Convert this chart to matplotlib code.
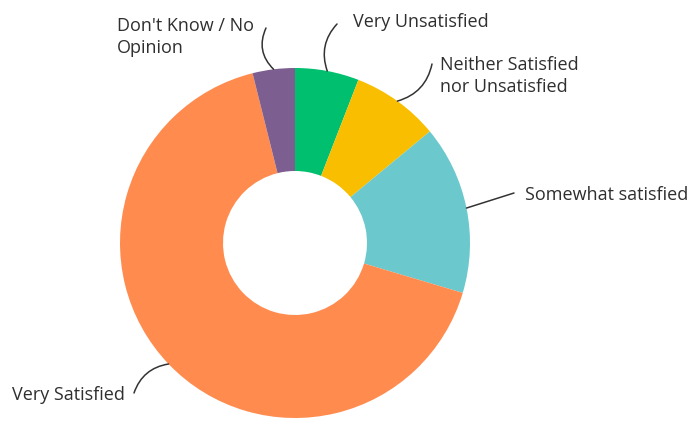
import numpy as np
import matplotlib.pyplot as plt

# data
labels = ["Very Unsatisfied", "Neither Satisfied\nnor Unsatisfied", "Somewhat satisfied",
          "Very Satisfied", "Don't Know / No\nOpinion"]
values = [5.9, 8.1, 15.6, 66.5, 3.9]
colors = ["#00BF6F", "#F9BE00", "#6BC8CD", "#FF8B4F", "#7D5E90"]

plt.rcParams['font.family'] = ['Open Sans', 'DejaVu Sans']

W, H = 695, 424
fig = plt.figure(figsize=(W / 100, H / 100), dpi=100)
ax = fig.add_axes([0, 0, 1, 1])

cx, cy = 295, H - 243
R, r_in = 175, 72
wedges, _ = ax.pie(values, colors=colors, startangle=90, counterclock=False,
                   center=(cx, cy), radius=R, frame=True,
                   wedgeprops=dict(width=R - r_in, linewidth=0))
ax.set_xlim(0, W)
ax.set_ylim(0, H)
ax.set_aspect('equal')
ax.axis('off')

# label placement (pixel coords from top-left), alignment, leader arc, leader end
lab_pos = [(353, 22, 'left', 0.3, (337, 24)),
           (440, 76, 'left', -0.3, (432, 64)),
           (525, 195, 'left', 0.0, (514, 193)),
           (125, 395, 'right', -0.3, (134, 393)),
           (117, 37, 'left', 0.35, (266, 28))]

for w, lab, (tx, ty, ha, rad, end) in zip(wedges, labels, lab_pos):
    ang = np.deg2rad((w.theta1 + w.theta2) / 2)
    sx = cx + R * np.cos(ang)
    sy = cy + R * np.sin(ang)
    ax.text(tx, H - ty, lab, ha=ha, va='center', fontsize=13, color='#2f2f2f',
            linespacing=1.25, multialignment='left')
    ax.annotate('', xy=(sx, sy), xytext=(end[0], H - end[1]),
                arrowprops=dict(arrowstyle='-', color='#333333', lw=1.1,
                                connectionstyle='arc3,rad=%s' % rad,
                                shrinkA=0, shrinkB=0))

fig.savefig('out.png', dpi=100)
